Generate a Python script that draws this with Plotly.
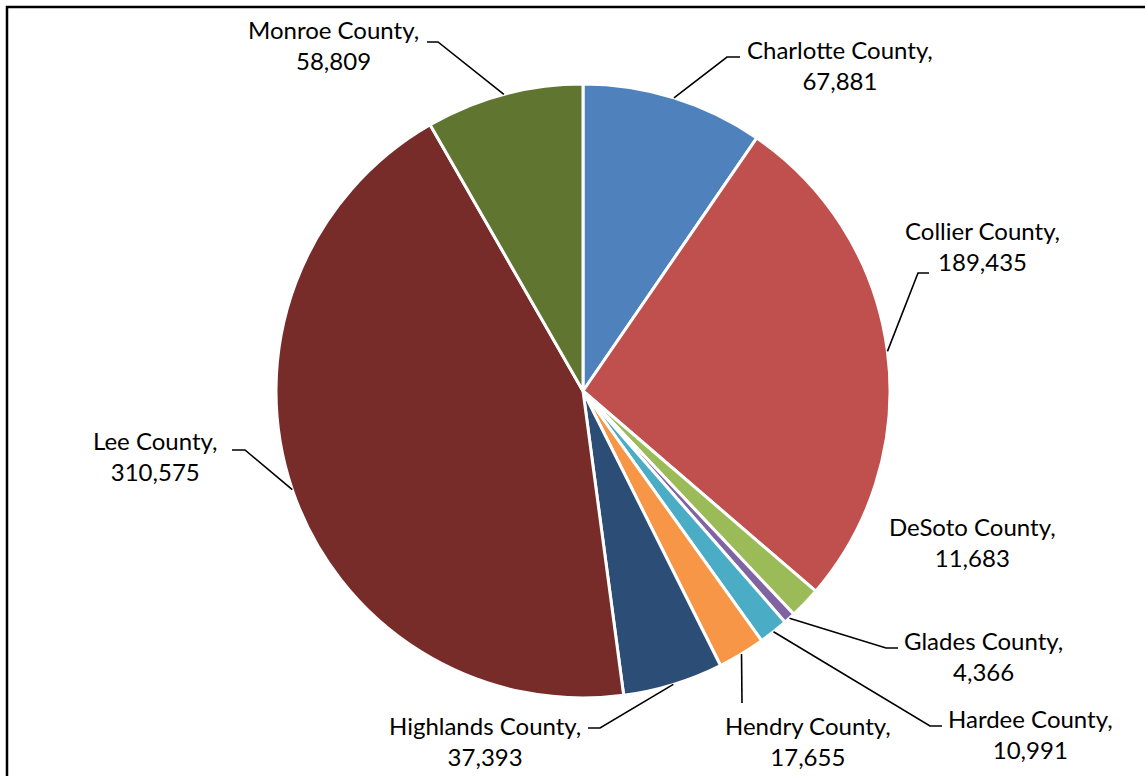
import math
import plotly.graph_objects as go

counties = ["Charlotte County", "Collier County", "DeSoto County", "Glades County",
            "Hardee County", "Hendry County", "Highlands County", "Lee County", "Monroe County"]
values = [67881, 189435, 11683, 4366, 10991, 17655, 37393, 310575, 58809]
colors = ["#4F81BD", "#C0504D", "#9BBB59", "#8064A2", "#4BACC6",
          "#F79646", "#2C4D75", "#772C2A", "#5F7530"]

W, H = 1145, 776
CX, CY, R = 583, 391, 307

# label layout (pixel positions of text centres and leader elbows)
label_pos = {
    "Charlotte County": (840, 65),
    "Collier County": (982, 246),
    "DeSoto County": (972, 542),
    "Glades County": (983, 656),
    "Hardee County": (1030, 734),
    "Hendry County": (808, 741),
    "Highlands County": (485, 741),
    "Lee County": (155, 456),
    "Monroe County": (333, 45),
}
elbows = {
    "Charlotte County": [(727, 57), (740, 57)],
    "Collier County": [(918, 273), (929, 273)],
    "Glades County": [(886, 648), (898, 648)],
    "Hardee County": [(930, 726), (942, 726)],
    "Hendry County": [(742, 703)],
    "Highlands County": [(600, 728), (588, 728)],
    "Lee County": [(245, 450), (232, 450)],
    "Monroe County": [(438, 42), (427, 42)],
}


def px(x):
    return x / W


def py(y):
    return 1 - y / H


fig = go.Figure(go.Pie(
    labels=counties, values=values, sort=False, direction="clockwise", rotation=0,
    marker=dict(colors=colors, line=dict(color="white", width=3)),
    textinfo="none", hoverinfo="label+value", showlegend=False,
    domain=dict(x=[px(CX - R), px(CX + R)], y=[py(CY + R), py(CY - R)]),
))

total = sum(values)
cum = 0
shapes = []
annotations = []
for name, v in zip(counties, values):
    mid = (cum + v / 2) / total * 2 * math.pi
    cum += v
    sx = CX + R * math.sin(mid)
    sy = CY - R * math.cos(mid)
    if name in elbows:
        pts = [(sx, sy)] + elbows[name]
        path = "M " + " L ".join(f"{px(x):.5f},{py(y):.5f}" for x, y in pts)
        shapes.append(dict(type="path", xref="paper", yref="paper", path=path,
                           line=dict(color="black", width=1.6)))
    lx, ly = label_pos[name]
    annotations.append(dict(
        x=px(lx), y=py(ly), xref="paper", yref="paper", xanchor="center", yanchor="middle",
        text=f"{name},<br>{v:,}", showarrow=False, align="center",
        font=dict(family="Lato, 'Noto Sans', sans-serif", size=24, color="black"),
    ))

# chart frame (left and top edges)
shapes.append(dict(type="line", xref="paper", yref="paper", x0=px(7), x1=px(7), y0=py(6), y1=py(H + 5),
                   line=dict(color="black", width=2.5)))
shapes.append(dict(type="line", xref="paper", yref="paper", x0=px(6), x1=px(W + 5), y0=py(7), y1=py(7),
                   line=dict(color="black", width=2.5)))

fig.update_layout(
    width=W, height=H, margin=dict(l=0, r=0, t=0, b=0),
    paper_bgcolor="white", plot_bgcolor="white",
    shapes=shapes, annotations=annotations,
)

fig.write_html("out.html", config={"displayModeBar": False},
               post_script="document.body.style.margin='0px';document.body.style.overflow='hidden';")
